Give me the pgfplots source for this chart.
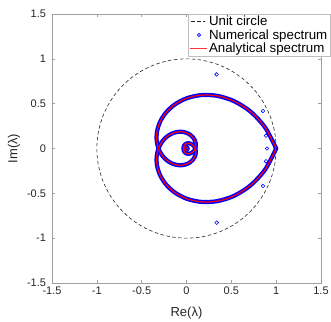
\documentclass[border=0pt]{standalone}
\usepackage{fontspec}
\setmainfont{Liberation Sans}
\usepackage{pgfplots}
\pgfplotsset{compat=1.18}
\usepackage{pgfplotstable}

\pgfplotstableread{
x y
1 0
0.9848 0.1736
0.9397 0.3420
0.8660 0.5
0.7660 0.6428
0.6428 0.7660
0.5 0.8660
0.3420 0.9397
0.1736 0.9848
0 1
-0.1736 0.9848
-0.3420 0.9397
-0.5 0.8660
-0.6428 0.7660
-0.7660 0.6428
-0.8660 0.5
-0.9397 0.3420
-0.9848 0.1736
-1 0
-0.9848 -0.1736
-0.9397 -0.3420
-0.8660 -0.5
-0.7660 -0.6428
-0.6428 -0.7660
-0.5 -0.8660
-0.3420 -0.9397
-0.1736 -0.9848
0 -1
0.1736 -0.9848
0.3420 -0.9397
0.5 -0.8660
0.6428 -0.7660
0.7660 -0.6428
0.8660 -0.5
0.9397 -0.3420
0.9848 -0.1736
1 0
}\unitc

\pgfplotstableread{
x y
1 0
0.8768 0.2349
0.7135 0.4119
0.5288 0.5288
0.3394 0.5878
0.1595 0.5951
0 0.5592
-0.1314 0.4903
-0.2304 0.3990
-0.2957 0.2957
-0.3287 0.1898
-0.3328 0.0892
-0.3127 0
-0.2742 -0.0735
-0.2231 -0.1288
-0.1654 -0.1654
-0.1061 -0.1838
-0.0499 -0.1861
0 -0.1749
0.0411 -0.1533
0.0720 -0.1248
0.0925 -0.0925
0.1028 -0.0594
0.1041 -0.0279
0.0978 0
0.0858 0.0230
0.0698 0.0403
0.0517 0.0517
0.0332 0.0575
0.0156 0.0582
0 0.0547
-0.0129 0.0480
-0.0225 0.0390
-0.0289 0.0289
-0.0322 0.0186
-0.0326 0.0087
-0.0306 0
-0.0268 -0.0072
-0.0218 -0.0126
-0.0162 -0.0162
-0.0104 -0.0180
-0.0049 -0.0182
0 -0.0171
0.0040 -0.0150
0.0070 -0.0122
0.0090 -0.0090
0.0101 -0.0058
0.0102 -0.0027
0.0096 0
}\upperbranch

\pgfplotstableread{
x y
1 0
0.8768 -0.2349
0.7135 -0.4119
0.5288 -0.5288
0.3394 -0.5878
0.1595 -0.5951
0 -0.5592
-0.1314 -0.4903
-0.2304 -0.3990
-0.2957 -0.2957
-0.3287 -0.1898
-0.3328 -0.0892
-0.3127 0
-0.2742 0.0735
-0.2231 0.1288
-0.1654 0.1654
-0.1061 0.1838
-0.0499 0.1861
0 0.1749
0.0411 0.1533
0.0720 0.1248
0.0925 0.0925
0.1028 0.0594
0.1041 0.0279
0.0978 0
0.0858 -0.0230
0.0698 -0.0403
0.0517 -0.0517
0.0332 -0.0575
0.0156 -0.0582
0 -0.0547
-0.0129 -0.0480
-0.0225 -0.0390
-0.0289 -0.0289
-0.0322 -0.0186
-0.0326 -0.0087
-0.0306 0
-0.0268 0.0072
-0.0218 0.0126
-0.0162 0.0162
-0.0104 0.0180
-0.0049 0.0182
0 0.0171
0.0040 0.0150
0.0070 0.0122
0.0090 0.0090
0.0101 0.0058
0.0102 0.0027
0.0096 0
}\lowerbranch

\pgfplotstableread{
x y
0.335 0.827
0.853 0.418
0.887 0.143
0.898 0
0.887 -0.143
0.853 -0.418
0.337 -0.827
}\outl

\begin{document}
\begin{tikzpicture}
\useasboundingbox (-52pt,-38pt) rectangle (279pt,283pt);
\begin{axis}[
  at={(0,0)}, anchor=south west,
  scale only axis, width=269pt, height=269pt,
  xmin=-1.5, xmax=1.5, ymin=-1.5, ymax=1.5,
  xtick={-1.5,-1,-0.5,0,0.5,1,1.5},
  ytick={-1.5,-1,-0.5,0,0.5,1,1.5},
  xticklabels={-1.5,-1,-0.5,0,0.5,1,1.5},
  yticklabels={-1.5,-1,-0.5,0,0.5,1,1.5},
  tick align=inside, major tick length=2.7pt,
  axis line style={gray!75},
  tick style={gray!75, line width=0.5pt},
  ticklabel style={font=\fontsize{11}{13}\selectfont, text=black!85},
  yticklabel style={xshift=-2.5pt},
  xlabel={Re(λ)}, ylabel={Im(λ)},
  label style={font=\fontsize{13}{15}\selectfont, text=black!85},
  xlabel style={at={(axis description cs:0.5,0)}, anchor=center, yshift=-30pt},
  ylabel style={at={(axis description cs:0,0.5)}, anchor=center, yshift=38pt},
  legend style={at={(1,1)}, anchor=north east, xshift=9pt, yshift=0.3pt,
    draw=gray!50, fill=white, font=\fontsize{13.3}{15}\selectfont,
    inner xsep=1.5pt, inner ysep=2pt, row sep=1.5pt,
    nodes={inner xsep=1pt, inner ysep=0.3pt}},
  legend cell align=left,
]
\addplot[black!85, line width=0.6pt, dash pattern=on 3.5pt off 2.5pt, smooth,
  legend image code/.code={\draw[black!85, line width=0.6pt, dash pattern=on 3.5pt off 2.5pt] (0pt,0pt) -- (14pt,0pt);}] table {\unitc};
\addlegendentry{Unit circle}
\addplot[forget plot, blue, line width=4.2pt, line cap=round, line join=round, smooth] table {\upperbranch};
\addplot[forget plot, blue, line width=4.2pt, line cap=round, line join=round, smooth] table {\lowerbranch};
\addplot[only marks, mark=o, mark size=1.8pt, blue, mark options={line width=0.6pt},
  legend image code/.code={\draw[blue, line width=0.6pt] (7.5pt,0pt) circle (1.6pt);}] table {\outl};
\addlegendentry{Numerical spectrum}
\addplot[color=red, line width=1.2pt, smooth,
  legend image code/.code={\draw[red!80, line width=1.1pt] (-1pt,0pt) -- (16pt,0pt);}] table {\upperbranch};
\addlegendentry{Analytical spectrum}
\addplot[forget plot, color=red, line width=1.2pt, smooth] table {\lowerbranch};
\end{axis}
\end{tikzpicture}
\end{document}
